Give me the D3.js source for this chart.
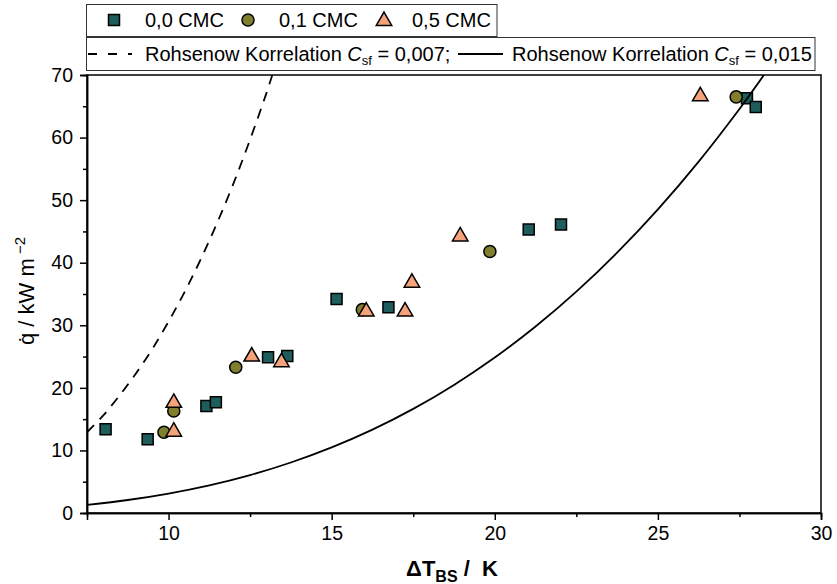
<!DOCTYPE html>
<html><head><meta charset="utf-8">
<script src="https://cdn.jsdelivr.net/npm/d3@7"></script>
<style>
body{margin:0;background:#fff;}
svg{display:block;font-family:"Liberation Sans",Arial,sans-serif;}
text{white-space:pre;}
</style></head>
<body><svg id="c" width="837" height="584"></svg>
<script>
// ---- data ----
const sq_x = [8.07, 9.36, 11.16, 11.45, 13.05, 13.64, 15.15, 16.74, 21.04, 22.03, 27.73, 28.0];
const sq_y = [13.4, 11.8, 17.1, 17.7, 24.9, 25.1, 34.2, 32.9, 45.3, 46.1, 66.3, 64.9];
const ci_x = [9.86, 10.16, 12.06, 15.94, 19.85, 27.4];
const ci_y = [12.9, 16.3, 23.3, 32.5, 41.8, 66.5];
const tr_x = [10.16, 10.16, 12.55, 13.46, 16.06, 17.25, 17.46, 18.94, 26.3];
const tr_y = [13.0, 17.6, 25.0, 24.1, 32.2, 32.2, 36.8, 44.2, 66.6];
// Rohsenow Cs=0.007 (dashed)
const r7_x = [7.5, 8.0, 8.5, 9.0, 9.5, 10.0, 10.5, 11.0, 11.5, 12.0, 12.5, 13.0, 13.18];
const r7_y = [12.9, 15.6, 18.8, 22.3, 26.2, 30.6, 35.4, 40.7, 46.5, 52.8, 59.7, 67.1, 70.0];
// Rohsenow Cs=0.015 (solid)
const r15_x = [7.5, 8.75, 10, 11.25, 12.5, 13.75, 15, 16.25, 17.5, 18.75, 20, 21.25, 22.5, 23.75, 25, 26.25, 27.5, 28.25];
const r15_y = [1.31, 2.08, 3.11, 4.42, 6.06, 8.07, 10.48, 13.32, 16.64, 20.47, 24.84, 29.8, 35.37, 41.6, 48.52, 56.16, 64.57, 70.0];
const xTicks = [10, 15, 20, 25, 30];
const xMinor = [12.5, 17.5, 22.5, 27.5];
const yTicks = [0, 10, 20, 30, 40, 50, 60, 70];
const yMinor = [5, 15, 25, 35, 45, 55, 65];
const seriesNames = ["0,0 CMC", "0,1 CMC", "0,5 CMC"];
const colors = ["#1f5d5d", "#7f7f2e", "#f4a27a"];

// ---- layout ----
const L = 87, R = 821, T = 75, B = 513;
const svg = d3.select("#c");
const x = d3.scaleLinear().domain([7.5, 30]).range([L, R]);
const y = d3.scaleLinear().domain([0, 70]).range([B, T]);

svg.append("defs").append("clipPath").attr("id","clip")
  .append("rect").attr("x",L).attr("y",T).attr("width",R-L).attr("height",B-T);

// frame top/right
svg.append("rect").attr("x",L).attr("y",T).attr("width",R-L).attr("height",B-T)
  .attr("fill","none").attr("stroke","#000").attr("stroke-width",1.5);

// axes
const fs = 19.5;
const gx = svg.append("g").attr("transform",`translate(0,${B})`)
  .call(d3.axisBottom(x).tickValues(xTicks).tickSize(7).tickPadding(6).tickFormat(d3.format("d")));
const gxm = svg.append("g").attr("transform",`translate(0,${B})`)
  .call(d3.axisBottom(x).tickValues(xMinor).tickSize(4).tickFormat(""));
const gy = svg.append("g").attr("transform",`translate(${L},0)`)
  .call(d3.axisLeft(y).tickValues(yTicks).tickSize(7).tickPadding(7).tickFormat(d3.format("d")));
const gym = svg.append("g").attr("transform",`translate(${L},0)`)
  .call(d3.axisLeft(y).tickValues(yMinor).tickSize(4).tickFormat(""));
[gx,gxm,gy,gym].forEach(g=>{
  g.selectAll(".domain").attr("stroke","#000").attr("stroke-width",1.5);
  g.selectAll(".tick line").attr("stroke","#000").attr("stroke-width",1.5);
  g.selectAll(".tick text").attr("fill","#000").style("font-size",fs+"px")
   .style("font-family","'Liberation Sans',Arial,sans-serif");
});

// markers
const symSq = d3.symbol().type(d3.symbolSquare).size(121);
const symCi = d3.symbol().type(d3.symbolCircle).size(115);
const symTr = d3.symbol().type(d3.symbolTriangle).size(104);
function drawSeries(xs, ys, sym, col){
  svg.append("g").selectAll("path").data(xs.map((v,i)=>[v,ys[i]])).join("path")
    .attr("d", sym).attr("transform", d=>`translate(${x(d[0])},${y(d[1])})`)
    .attr("fill", col).attr("stroke","#000").attr("stroke-width",1.5);
}
drawSeries(sq_x, sq_y, symSq, colors[0]);
drawSeries(ci_x, ci_y, symCi, colors[1]);
drawSeries(tr_x, tr_y, symTr, colors[2]);

// curves
const line = d3.line().x(d=>x(d[0])).y(d=>y(d[1])).curve(d3.curveCatmullRom);
const cg = svg.append("g").attr("clip-path","url(#clip)");
cg.append("path").datum(r7_x.map((v,i)=>[v,r7_y[i]])).attr("d",line)
  .attr("fill","none").attr("stroke","#000").attr("stroke-width",1.8).attr("stroke-dasharray","10,8");
cg.append("path").datum(r15_x.map((v,i)=>[v,r15_y[i]])).attr("d",line)
  .attr("fill","none").attr("stroke","#000").attr("stroke-width",1.8);

// legend 1
svg.append("rect").attr("x",86.5).attr("y",4.5).attr("width",410.5).attr("height",32)
  .attr("fill","#fff").attr("stroke","#333").attr("stroke-width",1);
const lg = [[114,145],[248,279],[384,412]];
const syms = [symSq, symCi, symTr];
lg.forEach((p,i)=>{
  svg.append("path").attr("d", syms[i]).attr("transform",`translate(${p[0]},${i==2?21:20})`)
    .attr("fill",colors[i]).attr("stroke","#000").attr("stroke-width",1.5);
  svg.append("text").attr("x",p[1]).attr("y",27).style("font-size","20px").text(seriesNames[i]);
});
// legend 2
svg.append("rect").attr("x",86.5).attr("y",37.5).attr("width",728.5).attr("height",33)
  .attr("fill","#fff").attr("stroke","#333").attr("stroke-width",1);
svg.append("line").attr("x1",88).attr("x2",132).attr("y1",54).attr("y2",54)
  .attr("stroke","#000").attr("stroke-width",1.8).attr("stroke-dasharray","9,11");
svg.append("line").attr("x1",458).attr("x2",503).attr("y1",54).attr("y2",54)
  .attr("stroke","#000").attr("stroke-width",1.8);
function rohText(xp, val){
  const t = svg.append("text").attr("x",xp).attr("y",61).style("font-size","20px");
  t.append("tspan").text("Rohsenow Korrelation ");
  t.append("tspan").style("font-style","italic").text("C");
  t.append("tspan").attr("dy",4).style("font-size","13px").text("sf");
  t.append("tspan").attr("dy",-4).text(" = " + val);
}
rohText(145, "0,007;");
rohText(512, "0,015");

// axis titles
const xt = svg.append("text").attr("x",452).attr("y",576).attr("text-anchor","middle")
  .style("font-size","22px").style("font-weight","bold");
xt.append("tspan").text("\u0394T");
xt.append("tspan").attr("dy",6).style("font-size","16px").text("BS");
xt.append("tspan").attr("dy",-6).text(" /  K");

const yt = svg.append("text").attr("transform","translate(34,291) rotate(-90)")
  .attr("text-anchor","middle").style("font-size","22px");
yt.append("tspan").text("q\u0307 / kW m");
yt.append("tspan").attr("dy",-9).style("font-size","15px").text(" \u22122");
</script></body></html>
